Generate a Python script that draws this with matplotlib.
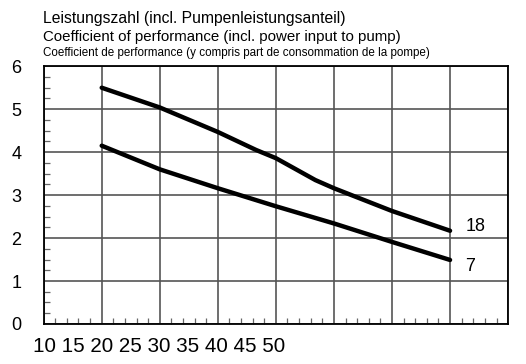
import matplotlib.pyplot as plt
from matplotlib.ticker import MultipleLocator

# values
x_18 = [15, 20, 25, 28.3, 30, 32, 33.4, 35, 40, 45]
cop_18 = [5.50, 5.04, 4.47, 4.05, 3.86, 3.56, 3.35, 3.16, 2.63, 2.17]
x_7 = [15, 20, 25, 30, 35, 40, 45]
cop_7 = [4.15, 3.60, 3.16, 2.74, 2.34, 1.91, 1.49]
curve_labels = ["18", "7"]
x_tick_labels = ["10", "15", "20", "25", "30", "35", "40", "45", "50"]
y_ticks = [0, 1, 2, 3, 4, 5, 6]

title_lines = [
    "Leistungszahl (incl. Pumpenleistungsanteil)",
    "Coefficient of performance (incl. power input to pump)",
    "Coefficient de performance (y compris part de consommation de la pompe)",
]

plt.rcParams['font.family'] = ['Liberation Sans', 'DejaVu Sans']

fig = plt.figure(figsize=(5.26, 3.64), dpi=100)
ax = fig.add_axes([0.083, 0.11, 0.883, 0.708])

ax.plot(x_18, cop_18, color='black', lw=3.2, solid_capstyle='round', solid_joinstyle='round')
ax.plot(x_7, cop_7, color='black', lw=3.2, solid_capstyle='round', solid_joinstyle='round')

ax.text(46.3, 2.26, curve_labels[0], fontsize=13, va='center', ha='left')
ax.text(46.3, 1.33, curve_labels[1], fontsize=13, va='center', ha='left')

ax.set_xlim(10, 50)
ax.set_ylim(0, 6)
ax.xaxis.set_major_locator(MultipleLocator(5))
ax.xaxis.set_minor_locator(MultipleLocator(1))
ax.set_yticks(y_ticks)
ax.yaxis.set_minor_locator(MultipleLocator(0.25))
ax.grid(True, which='major', color='#555555', lw=1.2)
ax.tick_params(axis='both', which='major', length=0)
ax.tick_params(axis='x', which='major', labelbottom=False)
ax.tick_params(axis='y', which='major', pad=16, labelsize=13)
ax.tick_params(which='minor', direction='in', length=4, width=0.9, color='#666666')
for s in ax.spines.values():
    s.set_color('black')
    s.set_linewidth(1.3)

# tick labels sit as one row under the axis, not aligned with the grid
fig.text(33 / 526, 1 - 347 / 364, " ".join(x_tick_labels), fontsize=14.9, va='center', ha='left')

fig.text(43 / 526, 1 - 19 / 364, title_lines[0], fontsize=11.3, va='center', ha='left')
fig.text(43 / 526, 1 - 37 / 364, title_lines[1], fontsize=10.8, va='center', ha='left')
fig.text(43 / 526, 1 - 53 / 364, title_lines[2], fontsize=8.4,
         family=['Liberation Sans Narrow', 'Liberation Sans', 'DejaVu Sans'],
         va='center', ha='left')

fig.savefig('out.png', dpi=100)
